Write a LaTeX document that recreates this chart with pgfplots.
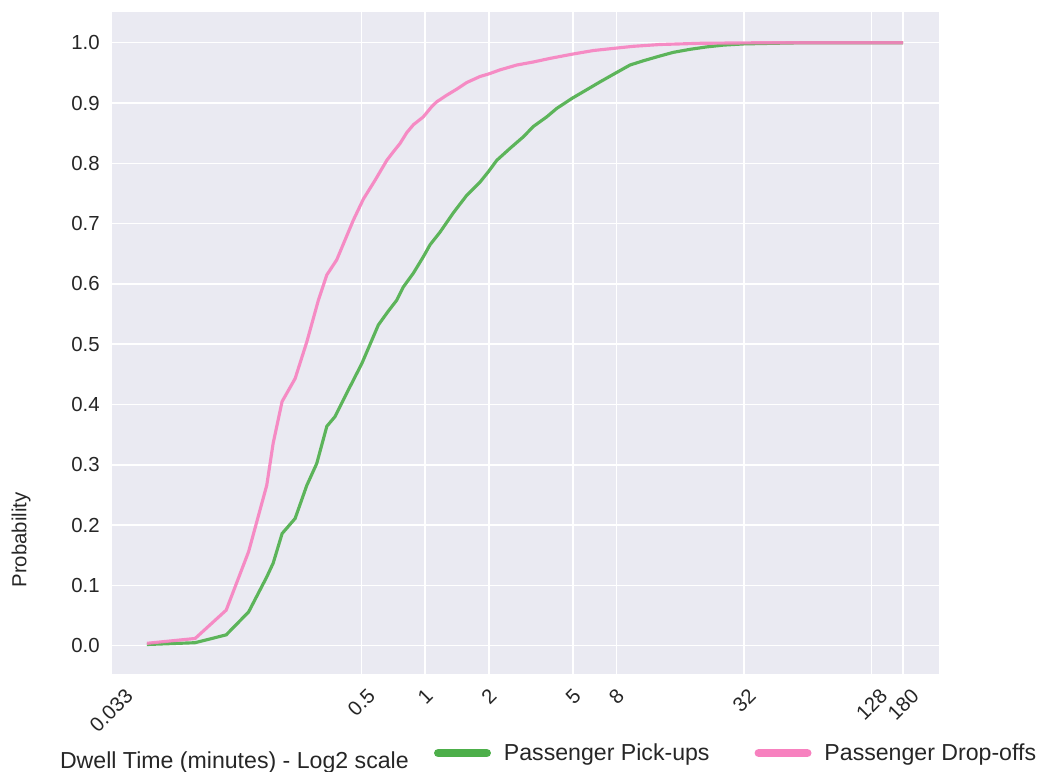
\documentclass[border=0pt]{standalone}
\usepackage{fontspec}
\setmainfont{Liberation Sans}
\usepackage{graphicx}
\usepackage{pgfplots}
\pgfplotsset{compat=1.18}

\definecolor{sbbg}{HTML}{EAEAF2}
\definecolor{setgreen}{HTML}{4DAF4A}
\definecolor{setpink}{HTML}{F781BF}
\definecolor{txt}{HTML}{262626}

% rotated tick label whose upright bounding box is centred under the tick
\newcommand{\rl}[1]{\rotatebox{45}{#1}}

\begin{document}
\begin{tikzpicture}
\begin{axis}[
  name=ax,
  scale only axis,
  width=448.27pt, height=358.16pt,
  xmode=log, log basis x=2,
  xmin=0.0326, xmax=266.9,
  ymin=-0.0474, ymax=1.0514,
  axis background/.style={fill=sbbg},
  axis line style={draw=none},
  major tick length=0pt,
  grid=major,
  major grid style={white, line width=0.8pt},
  xtick={0.033,0.5,1,2,5,8,32,128,180},
  xticklabels={\rl{0.033},\rl{0.5},\rl{1},\rl{2},\rl{5},\rl{8},\rl{32},\rl{128},\rl{180}},
  xticklabel style={anchor=north, inner sep=0pt, yshift=-6.9pt,
    font=\fontsize{11}{13}\selectfont, text=txt},
  ytick={0,0.1,0.2,0.3,0.4,0.5,0.6,0.7,0.8,0.9,1.0},
  yticklabel style={anchor=east, inner sep=0pt, xshift=-5.4pt,
    font=\fontsize{11}{13}\selectfont, text=txt,
    /pgf/number format/.cd, fixed, fixed zerofill, precision=1, assume math mode=true},
  xlabel={Dwell Time (minutes) - Log2 scale},
  xlabel style={at={(axis description cs:0.150,-0.1324)}, anchor=center,
    font=\fontsize{12.5}{15}\selectfont, text=txt},
  ylabel={Probability},
  ylabel style={at={(axis description cs:-0.1073,0.2027)}, anchor=center,
    font=\fontsize{11}{13}\selectfont, text=txt},
  legend columns=2,
  legend cell align=left,
  legend style={draw=none, fill=none, inner sep=0pt, outer sep=0pt,
    at={(axis description cs:0.3907,-0.1188)}, anchor=west,
    font=\fontsize{12.5}{15}\selectfont, text=txt,
    nodes={inner sep=0pt},
    /tikz/every odd column/.append style={column sep=7pt},
    /tikz/every even column/.append style={column sep=24.3pt}},
  legend image code/.code={\draw[line width=4.6pt, line cap=round, opacity=1] (2.3pt,0pt) -- (28.5pt,0pt);},
]
% passenger pick-ups
\addplot[setgreen, line width=1.7pt, opacity=0.9] coordinates {
(0.0487,0.002) (0.0822,0.005) (0.1152,0.018) (0.147,0.056) (0.179,0.114)
(0.192,0.137) (0.2115,0.186) (0.2436,0.211) (0.2767,0.266) (0.308,0.302)
(0.344,0.364) (0.376,0.380) (0.427,0.419) (0.503,0.468) (0.602,0.532)
(0.671,0.555) (0.735,0.573) (0.790,0.595) (0.881,0.618) (0.981,0.645)
(1.056,0.665) (1.177,0.686) (1.36,0.718) (1.573,0.747) (1.818,0.769)
(1.989,0.786) (2.18,0.805) (2.52,0.825) (2.91,0.844) (3.24,0.861)
(3.75,0.877) (4.18,0.891) (4.95,0.908) (5.79,0.922) (6.69,0.935)
(7.96,0.950) (9.27,0.963) (10.71,0.970) (12.84,0.978) (14.84,0.984)
(17.79,0.989) (21.3,0.993) (25.6,0.996) (32,0.998) (44,0.999) (63,1.0) (180,1.0)
};
\addlegendentry{Passenger Pick-ups}
% passenger drop-offs
\addplot[setpink, line width=1.7pt, opacity=0.9] coordinates {
(0.0487,0.004) (0.0822,0.012) (0.1152,0.059) (0.147,0.156) (0.179,0.266)
(0.192,0.336) (0.2115,0.405) (0.2436,0.443) (0.2767,0.504) (0.3137,0.573)
(0.344,0.615) (0.383,0.640) (0.459,0.706) (0.512,0.741) (0.581,0.772)
(0.660,0.805) (0.708,0.819) (0.762,0.833) (0.820,0.851) (0.881,0.864)
(0.981,0.877) (1.075,0.894) (1.135,0.902) (1.266,0.913) (1.411,0.923)
(1.573,0.934) (1.818,0.944) (1.989,0.948) (2.26,0.955) (2.71,0.963)
(3.24,0.968) (3.89,0.974) (4.95,0.981) (6.22,0.987) (7.96,0.991)
(9.61,0.994) (12.84,0.997) (20,0.999) (40,1.0) (180,1.0)
};
\addlegendentry{Passenger Drop-offs}
\end{axis}
\pgfresetboundingbox
\path[use as bounding box] (ax.south west) ++(-59.46pt,-52.27pt) rectangle ++(562.16pt,416.76pt);
\end{tikzpicture}
\end{document}
